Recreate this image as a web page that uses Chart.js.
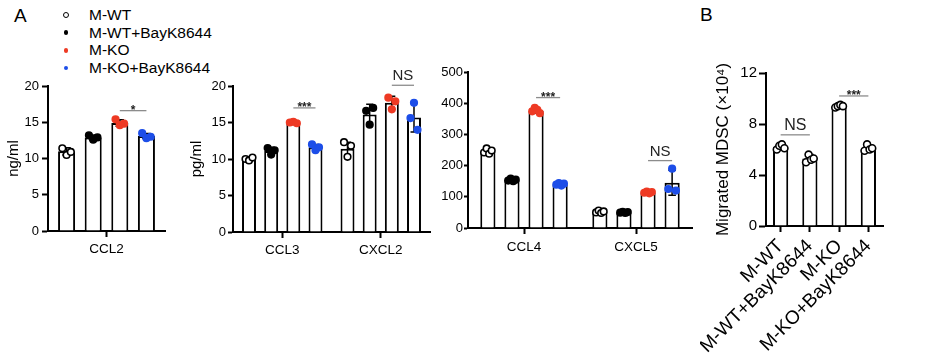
<!DOCTYPE html>
<html><head><meta charset="utf-8">
<script src="https://cdn.jsdelivr.net/npm/chart.js@4.4.1/dist/chart.umd.min.js"></script>
<style>
html,body{margin:0;padding:0;background:#fff;}
body{width:927px;height:354px;overflow:hidden;position:relative;font-family:"Liberation Sans",Arial,sans-serif;color:#000;}
canvas{position:absolute;}
.pl{position:absolute;font-size:19px;line-height:19px;}
#legend{position:absolute;left:60px;top:6px;font-size:15.5px;line-height:17.7px;}
#legend .row{position:relative;height:17.7px;padding-left:29px;white-space:nowrap;}
#legend .mk{position:absolute;border-radius:50%;box-sizing:border-box;}
</style></head>
<body>
<div class="pl" style="left:14px;top:6px">A</div>
<div class="pl" style="left:700px;top:5px">B</div>
<div id="legend"></div>
<canvas id="c1" style="left:0px;top:70px" width="175" height="200"></canvas>
<canvas id="c2" style="left:182px;top:60px" width="258" height="210"></canvas>
<canvas id="c3" style="left:425px;top:55px" width="277" height="215"></canvas>
<canvas id="c4" style="left:700px;top:55px" width="200" height="299"></canvas>
<script>
// ---------- data ----------
const groups = ['M-WT', 'M-WT+BayK8644', 'M-KO', 'M-KO+BayK8644'];

// Panel A – CCL2 (ng/ml)
const catA1 = ['CCL2'];
const meanA1 = [[11.0], [12.9], [14.9], [13.1]];
const sdA1 = [[0.5], [0.35], [0.45], [0.35]];
const ptsA1 = [[[11.4, 10.5, 10.9]], [[13.2, 12.6, 12.9]], [[15.4, 14.6, 14.8]], [[13.5, 12.8, 13.0]]];
const ticksA1 = [0, 5, 10, 15, 20];
const sigA1Pairs = [[2, 3, 0]];
const sigA1Levels = [16.6];
const sigA1Labels = ['*'];

// Panel A – CCL3, CXCL2 (pg/ml)
const catA2 = ['CCL3', 'CXCL2'];
const meanA2 = [[10.0, 11.4], [11.1, 16.1], [15.0, 17.7], [11.6, 15.7]];
const sdA2 = [[0.25, 0.9], [0.5, 1.4], [0.1, 0.9], [0.4, 2.0]];
const ptsA2 = [
  [[10.0, 9.8, 10.2], [12.3, 10.3, 11.8]],
  [[11.5, 10.6, 11.2], [16.6, 14.7, 17.0]],
  [[15.0, 15.1, 14.9], [18.4, 16.8, 17.9]],
  [[12.0, 11.2, 11.6], [15.6, 17.7, 14.0]]
];
const ticksA2 = [0, 5, 10, 15, 20];
const sigA2Pairs = [[2, 3, 0], [2, 3, 1]];
const sigA2Levels = [17.0, 20.1];
const sigA2Labels = ['***', 'NS'];

// Panel A – CCL4, CXCL5
const catA3 = ['CCL4', 'CXCL5'];
const meanA3 = [[245, 52], [154, 50], [376, 114], [140, 145]];
const sdA3 = [[8, 4], [4, 3], [8, 3], [4, 40]];
const ptsA3 = [
  [[242, 255, 238, 248], [50, 56, 48, 53]],
  [[152, 158, 150, 155], [49, 52, 48, 51]],
  [[374, 385, 379, 368], [113, 117, 111, 115]],
  [[139, 144, 136, 142], [125, 190, 120]]
];
const ticksA3 = [0, 100, 200, 300, 400, 500];
const sigA3Pairs = [[2, 3, 0], [2, 3, 1]];
const sigA3Levels = [418, 216];
const sigA3Labels = ['***', 'NS'];

// Panel B – Migrated MDSC (x10^4)
const catB = groups;
const meanB = [6.2, 5.3, 9.4, 6.1];
const sdB = [0.2, 0.3, 0.1, 0.25];
const ptsB = [[6.0, 6.3, 6.4, 6.1], [5.0, 5.6, 5.2, 5.3], [9.3, 9.4, 9.5, 9.4], [5.9, 6.4, 6.0, 6.1]];
const ticksB = [0, 4, 8, 12];
const sigBPairs = [[0, 1], [2, 3]];
const sigBLevels = [7.15, 10.2];
const sigBLabels = ['NS', '***'];

// ---------- styles ----------
const FONT = '"Liberation Sans", Arial, sans-serif';
const RED = '#ee3a24', BLUE = '#1d4ee8';
const markStyles = [
  {fill: '#fff', stroke: '#000'},
  {fill: '#000', stroke: '#000'},
  {fill: RED, stroke: RED},
  {fill: BLUE, stroke: BLUE}
];
const openStyle = {fill: '#fff', stroke: '#000'};

Chart.defaults.font.family = FONT;
Chart.defaults.color = '#000';

// legend
const lg = document.getElementById('legend');
groups.forEach((g, i) => {
  const r = document.createElement('div');
  r.className = 'row';
  const m = document.createElement('span');
  m.className = 'mk';
  const s = markStyles[i];
  const d = i === 0 ? 6 : 4.5;
  m.style.width = d + 'px'; m.style.height = d + 'px';
  m.style.left = (6 - d / 2) + 'px'; m.style.top = (9 - d / 2) + 'px';
  m.style.background = s.fill;
  m.style.border = i === 0 ? '1.6px solid #000' : 'none';
  r.appendChild(m);
  r.appendChild(document.createTextNode(g));
  lg.appendChild(r);
});

// overlay plugin: error bars, replicate points, significance marks
const overlay = {
  id: 'overlay',
  afterDatasetsDraw(chart, args, o) {
    const ctx = chart.ctx, ys = chart.scales.y;
    const elAt = (d, i) => chart.getDatasetMeta(d).data[i];
    ctx.save();
    // error bars
    o.sd.forEach((row, d) => row.forEach((s, i) => {
      const el = elAt(d, i), m = chart.data.datasets[d].data[i];
      const x = el.x, yt = ys.getPixelForValue(m + s), yb = ys.getPixelForValue(m - s);
      const cw = el.width * 0.5;
      ctx.strokeStyle = '#000'; ctx.lineWidth = 1.5;
      ctx.beginPath();
      ctx.moveTo(x, yt); ctx.lineTo(x, yb);
      ctx.moveTo(x - cw / 2, yt); ctx.lineTo(x + cw / 2, yt);
      ctx.moveTo(x - cw / 2, yb); ctx.lineTo(x + cw / 2, yb);
      ctx.stroke();
    }));
    // points
    o.pts.forEach((row, d) => row.forEach((vals, i) => {
      const el = elAt(d, i);
      const st = o.style(d, i);
      const n = vals.length, spread = el.width * 0.5;
      vals.forEach((v, k) => {
        const x = el.x + (n > 1 ? (k / (n - 1) - 0.5) * spread : 0);
        const y = ys.getPixelForValue(v);
        ctx.beginPath();
        ctx.arc(x, y, o.r, 0, Math.PI * 2);
        ctx.fillStyle = st.fill; ctx.fill();
        ctx.lineWidth = 1.6; ctx.strokeStyle = st.stroke; ctx.stroke();
      });
    }));
    // significance
    o.sigPairs.forEach((p, j) => {
      const a = o.sigEl(p, 0), b = o.sigEl(p, 1);
      const x1 = elAt(a[0], a[1]).x, x2 = elAt(b[0], b[1]).x;
      const y = ys.getPixelForValue(o.sigLevels[j]);
      ctx.strokeStyle = '#8c8c8c'; ctx.lineWidth = 1.3;
      ctx.beginPath(); ctx.moveTo(x1, y); ctx.lineTo(x2, y); ctx.stroke();
      const lab = o.sigLabels[j];
      ctx.fillStyle = '#222';
      ctx.textAlign = 'center'; ctx.textBaseline = 'alphabetic';
      if (lab === 'NS') { ctx.font = o.nsSize + 'px ' + FONT; ctx.fillText(lab, (x1 + x2) / 2, y - 5); }
      else { ctx.font = 'bold 12px ' + FONT; ctx.fillText(lab, (x1 + x2) / 2, y + 3); }
    });
    ctx.restore();
  }
};

function makeChart(id, cfg) {
  const datasets = cfg.means.map((m, g) => ({
    label: cfg.names[g], data: m,
    backgroundColor: '#fff', borderColor: '#000', borderWidth: 2,
    categoryPercentage: cfg.cp, barPercentage: cfg.bp
  }));
  return new Chart(document.getElementById(id), {
    type: 'bar',
    data: {labels: cfg.labels, datasets},
    plugins: [overlay],
    options: {
      responsive: false, animation: false, devicePixelRatio: 1,
      layout: {padding: {top: cfg.pt, right: cfg.pr, left: 0, bottom: 0}},
      plugins: {
        legend: {display: false}, tooltip: {enabled: false},
        overlay: {
          sd: cfg.sd, pts: cfg.pts, style: cfg.style, r: cfg.r,
          sigPairs: cfg.sigPairs, sigLevels: cfg.sigLevels, sigLabels: cfg.sigLabels,
          sigEl: cfg.sigEl, nsSize: cfg.nsSize
        }
      },
      scales: {
        x: {
          type: 'category',
          grid: {offset: false, drawOnChartArea: false, drawTicks: true, tickLength: 6, tickWidth: 2, tickColor: '#000'},
          border: {display: true, color: '#000', width: 2},
          ticks: {font: {size: cfg.xFont}, padding: cfg.xPad, color: '#000', maxRotation: cfg.rot, minRotation: cfg.rot, autoSkip: false},
          afterFit: s => { s.height = cfg.xh; }
        },
        y: {
          min: cfg.ticks[0], max: cfg.ticks[cfg.ticks.length - 1],
          grid: {drawOnChartArea: false, drawTicks: true, tickLength: cfg.yTick, tickWidth: 2, tickColor: '#000'},
          border: {display: true, color: '#000', width: 2},
          ticks: {font: {size: cfg.yFont}, padding: cfg.yPad, color: '#000'},
          title: {display: !!cfg.title, text: cfg.title, font: {size: cfg.titleSize}, padding: {top: cfg.titlePad, bottom: 0}, color: '#000'},
          afterBuildTicks: s => { s.ticks = cfg.ticks.map(v => ({value: v})); },
          afterFit: s => { s.width = cfg.yw; }
        }
      }
    }
  });
}

const groupStyle = (d, i) => markStyles[d];
const groupSig = (p, k) => [p[k], p[2]];

makeChart('c1', {
  labels: catA1, names: groups, means: meanA1, sd: sdA1, pts: ptsA1, ticks: ticksA1,
  sigPairs: sigA1Pairs, sigLevels: sigA1Levels, sigLabels: sigA1Labels, sigEl: groupSig,
  style: groupStyle, r: 3.3, cp: 0.91, bp: 0.64,
  pt: 16, pr: 10, xh: 39, yw: 48, xFont: 13.5, xPad: 4, yFont: 13, yPad: 3, yTick: 6,
  rot: 0, title: 'ng/ml', titleSize: 15, titlePad: 5, nsSize: 15
});
makeChart('c2', {
  labels: catA2, names: groups, means: meanA2, sd: sdA2, pts: ptsA2, ticks: ticksA2,
  sigPairs: sigA2Pairs, sigLevels: sigA2Levels, sigLabels: sigA2Labels, sigEl: groupSig,
  style: groupStyle, r: 3.3, cp: 0.9, bp: 0.63,
  pt: 26, pr: 10, xh: 38, yw: 51, xFont: 13.5, xPad: 4, yFont: 13, yPad: 2, yTick: 5,
  rot: 0, title: 'pg/ml', titleSize: 15, titlePad: 6, nsSize: 15
});
makeChart('c3', {
  labels: catA3, names: groups, means: meanA3, sd: sdA3, pts: ptsA3, ticks: ticksA3,
  sigPairs: sigA3Pairs, sigLevels: sigA3Levels, sigLabels: sigA3Labels, sigEl: groupSig,
  style: groupStyle, r: 3.3, cp: 0.86, bp: 0.63,
  pt: 17, pr: 10, xh: 42, yw: 43, xFont: 13.5, xPad: 5, yFont: 13, yPad: 1, yTick: 4,
  rot: 0, title: '', titleSize: 15, titlePad: 0, nsSize: 15
});
makeChart('c4', {
  labels: catB, names: ['Migrated MDSC'], means: [meanB], sd: [sdB], pts: [ptsB], ticks: ticksB,
  sigPairs: sigBPairs, sigLevels: sigBLevels, sigLabels: sigBLabels, sigEl: (p, k) => [0, p[k]],
  style: () => openStyle, r: 3.5, cp: 1, bp: 0.52,
  pt: 18, pr: 17, xh: 128, yw: 66, xFont: 19, xPad: 3, yFont: 15, yPad: 2, yTick: 7,
  rot: 45, title: 'Migrated MDSC (×10⁴)', titleSize: 17, titlePad: 13, nsSize: 16
});
</script>
</body></html>
